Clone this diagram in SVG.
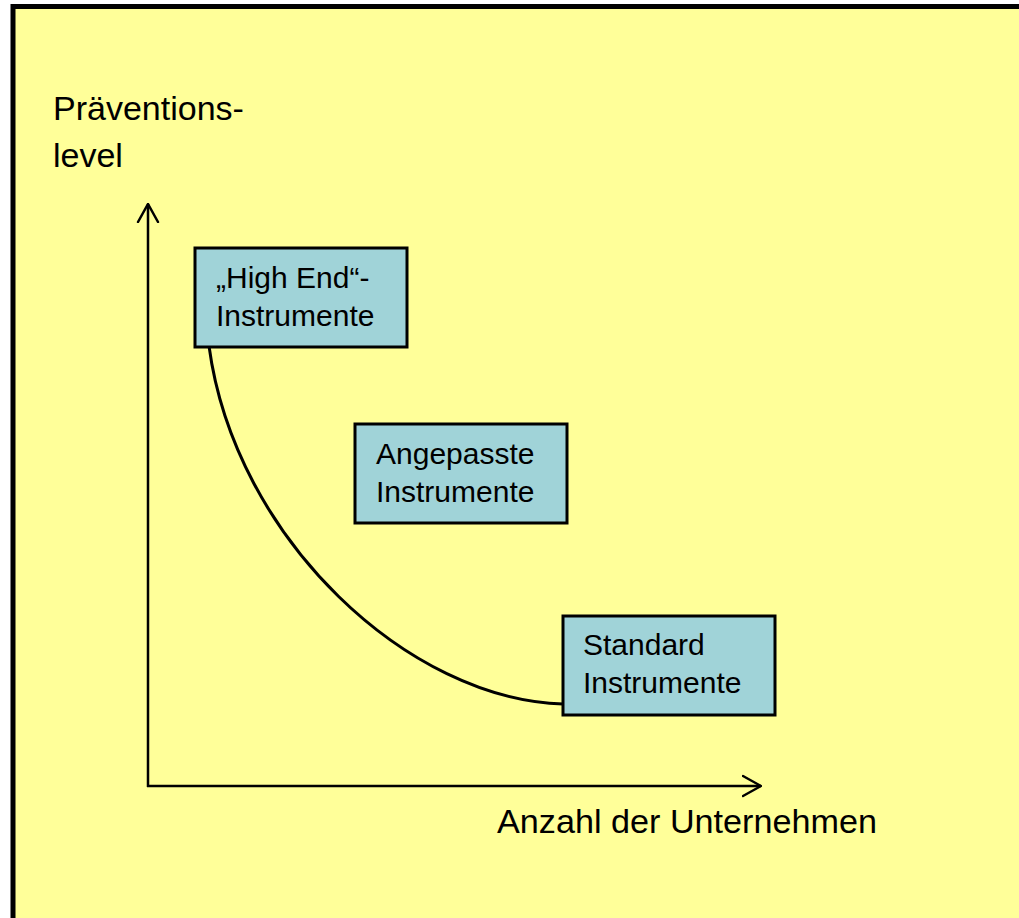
<svg xmlns="http://www.w3.org/2000/svg" width="1019" height="918" viewBox="0 0 1019 918">
  <defs>
    <style>
      .frame { fill: #FFFF99; stroke: #000; stroke-width: 5; }
      .box { fill: #A0D3D8; stroke: #000; stroke-width: 3; }
      .txt { font-family: "Liberation Sans", Arial, sans-serif; fill: #000; }
      .box-txt { font-size: 30px; }
      .axis-txt { font-size: 34px; }
      .line { fill: none; stroke: #000; stroke-width: 2.5; }
      .curve { fill: none; stroke: #000; stroke-width: 3; }
    </style>
    <marker id="open-arrow" viewBox="0 0 20 24" refX="19" refY="12" markerWidth="20" markerHeight="24" markerUnits="userSpaceOnUse" orient="auto">
      <polyline points="1,2 19,12 1,22" fill="none" stroke="#000" stroke-width="2.5" stroke-linecap="round" stroke-linejoin="miter"/>
    </marker>
  </defs>
  <rect x="0" y="0" width="1019" height="918" fill="#FFFFFF"/>
  <rect class="frame" x="13" y="6.5" width="1020" height="930"/>

  <g id="y-axis-label">
    <text class="txt axis-txt" x="53" y="120">Präventions-</text>
    <text class="txt axis-txt" x="53" y="167">level</text>
  </g>
  <g id="x-axis-label">
    <text class="txt axis-txt" x="497" y="833" textLength="380" lengthAdjust="spacingAndGlyphs">Anzahl der Unternehmen</text>
  </g>

  <g id="connectors">
    <line class="line" x1="148" y1="787" x2="148" y2="204" marker-end="url(#open-arrow)"/>
    <line class="line" x1="147" y1="786" x2="761" y2="786" marker-end="url(#open-arrow)"/>
    <path class="curve" d="M209,346 C235,540 410,700 563,704"/>
  </g>

  <g id="node-high-end">
    <rect class="box" x="195" y="248" width="212" height="99"/>
    <text class="txt box-txt" x="216" y="288">„High End“-</text>
    <text class="txt box-txt" x="216" y="326">Instrumente</text>
  </g>
  <g id="node-angepasste">
    <rect class="box" x="355" y="424" width="212" height="99"/>
    <text class="txt box-txt" x="376" y="464">Angepasste</text>
    <text class="txt box-txt" x="376" y="502">Instrumente</text>
  </g>
  <g id="node-standard">
    <rect class="box" x="563" y="616" width="212" height="99"/>
    <text class="txt box-txt" x="583" y="655">Standard</text>
    <text class="txt box-txt" x="583" y="693">Instrumente</text>
  </g>
</svg>
